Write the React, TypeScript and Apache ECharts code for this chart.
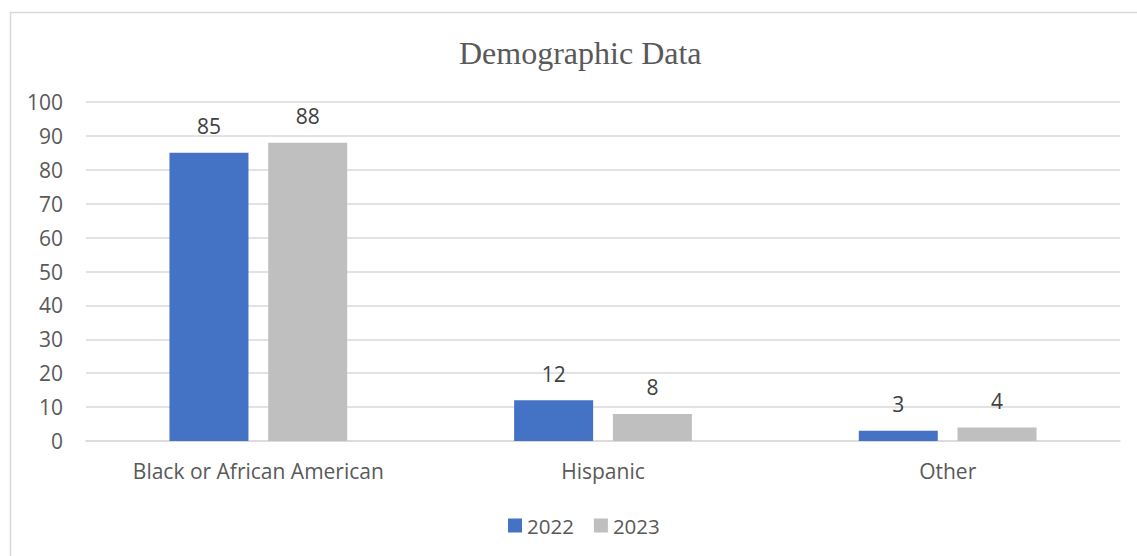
import React, { useEffect, useRef } from "react";
import * as echarts from "echarts";

const categories = ["Black or African American", "Hispanic", "Other"];
const series2022 = [85, 12, 3];
const series2023 = [88, 8, 4];
const seriesNames = ["2022", "2023"];
const yTicks = { min: 0, max: 100, interval: 10 };

export default function App() {
  const ref = useRef<HTMLDivElement>(null);
  useEffect(() => {
    if (!ref.current) return;
    const chart = echarts.init(ref.current, null, { renderer: "svg" });
    const font = "'Open Sans', 'Noto Sans', sans-serif";
    const labelStyle = {
      show: true,
      position: "top",
      distance: 16,
      color: "#404040",
      fontSize: 21,
      fontFamily: font,
    };
    chart.setOption({
      animation: false,
      backgroundColor: "#ffffff",
      title: {
        text: "Demographic Data",
        left: 459,
        top: 37,
        padding: 0,
        textStyle: {
          fontFamily: "'Liberation Serif', 'Times New Roman', serif",
          fontSize: 32,
          fontWeight: "normal",
          color: "#595959",
        },
      },
      graphic: [
        {
          type: "rect",
          shape: { x: 10.5, y: 12.5, width: 1140, height: 560 },
          style: { fill: "none", stroke: "#d9d9d9", lineWidth: 1.5 },
          silent: true,
        },
      ],
      legend: {
        data: seriesNames,
        left: 508,
        top: 515,
        padding: 0,
        itemWidth: 14,
        itemHeight: 14,
        itemGap: 20,
        icon: "rect",
        textStyle: { fontSize: 20.5, color: "#595959", fontFamily: font },
      },
      grid: { left: 86, right: 17, top: 102, bottom: 115, containLabel: false },
      xAxis: {
        type: "category",
        data: categories,
        axisLine: { show: true, lineStyle: { color: "#d9d9d9", width: 1.5 } },
        axisTick: { show: false },
        axisLabel: { margin: 19, fontSize: 21, color: "#595959", fontFamily: font },
      },
      yAxis: {
        type: "value",
        min: yTicks.min,
        max: yTicks.max,
        interval: yTicks.interval,
        axisLine: { show: false },
        axisTick: { show: false },
        splitLine: { lineStyle: { color: "#d9d9d9", width: 1.5 } },
        axisLabel: { margin: 23, fontSize: 21, color: "#595959", fontFamily: font },
      },
      series: [
        {
          name: seriesNames[0],
          type: "bar",
          data: series2022,
          barWidth: 79,
          barGap: "25%",
          itemStyle: { color: "#4472C4" },
          label: labelStyle,
        },
        {
          name: seriesNames[1],
          type: "bar",
          data: series2023,
          barWidth: 79,
          barGap: "25%",
          itemStyle: { color: "#BFBFBF" },
          label: labelStyle,
        },
      ],
    });
    return () => chart.dispose();
  }, []);
  return (
    <div
      ref={ref}
      style={{ position: "absolute", left: 0, top: 0, width: 1137, height: 556 }}
    />
  );
}
